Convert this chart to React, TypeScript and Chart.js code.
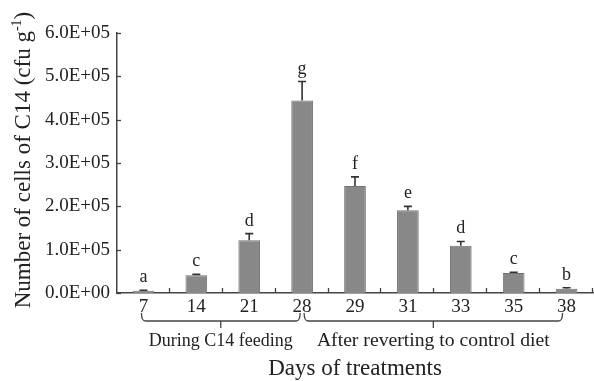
import React, { useEffect, useRef } from "react";
import { Chart, registerables } from "chart.js";

Chart.register(...registerables);

const categories = ["7", "14", "21", "28", "29", "31", "33", "35", "38"];
const means = [5000, 41000, 122000, 444000, 247000, 191000, 109000, 46000, 10000];
const errors = [1500, 2000, 15000, 44000, 21000, 9000, 10000, 2000, 2000];
const letters = ["a", "c", "d", "g", "f", "e", "d", "c", "b"];
const groupLabels = ["During C14 feeding", "After reverting to control diet"];
const groupFrom = [0, 3];
const groupTo = [3, 8];
const yTitleMain = "Number of cells of C14 (cfu g";
const yTitleSup = "-1";
const yTitleEnd = ")";
const xTitle = "Days of treatments";

const SERIF = "'Liberation Serif', 'Times New Roman', serif";
const GROUP_FONT_SIZES = [18, 19.7];

function fmt(v: number): string {
  if (v === 0) return "0.0E+00";
  const e = Math.floor(Math.log10(v) + 1e-9);
  const m = v / Math.pow(10, e);
  return m.toFixed(1) + "E+" + (e < 10 ? "0" + e : String(e));
}

const decorPlugin = {
  id: "decor",
  afterDatasetsDraw(chart: any) {
    const ctx = chart.ctx;
    const y = chart.scales.y;
    const meta = chart.getDatasetMeta(0);
    ctx.save();
    ctx.strokeStyle = "#333";
    ctx.lineWidth = 1.6;
    meta.data.forEach((bar: any, i: number) => {
      const cx = bar.x;
      const top = y.getPixelForValue(means[i] + errors[i]);
      const by = y.getPixelForValue(means[i]);
      ctx.beginPath();
      ctx.moveTo(cx, by);
      ctx.lineTo(cx, top);
      ctx.moveTo(cx - 4, top);
      ctx.lineTo(cx + 4, top);
      ctx.stroke();
      ctx.fillStyle = "#222";
      ctx.font = "18px " + SERIF;
      ctx.textAlign = "center";
      ctx.textBaseline = "alphabetic";
      ctx.fillText(letters[i], cx, top - 8);
    });
    ctx.restore();
  },
  afterDraw(chart: any) {
    const ctx = chart.ctx;
    const x = chart.scales.x;
    const y = chart.scales.y;
    const area = chart.chartArea;
    ctx.save();
    ctx.strokeStyle = "#444";
    ctx.lineWidth = 1.3;
    for (let v = 0; v <= 600000; v += 100000) {
      const py = Math.round(y.getPixelForValue(v)) + 0.5;
      ctx.beginPath();
      ctx.moveTo(area.left, py);
      ctx.lineTo(area.left + 4, py);
      ctx.stroke();
    }
    const step = (area.right - area.left) / categories.length;
    for (let i = 1; i <= categories.length; i++) {
      const px = Math.round(area.left + step * i) - 0.5;
      ctx.beginPath();
      ctx.moveTo(px, area.bottom);
      ctx.lineTo(px, area.bottom - 5);
      ctx.stroke();
    }
    const lineY = area.bottom + 28;
    for (let g = 0; g < groupLabels.length; g++) {
      const x0 = x.getPixelForValue(groupFrom[g]) + (g === 0 ? -2 : 2);
      const x1 = x.getPixelForValue(groupTo[g]) + (g === 0 ? -2 : -4);
      const mid = (x0 + x1) / 2;
      ctx.beginPath();
      ctx.moveTo(x0, lineY - 8);
      ctx.quadraticCurveTo(x0, lineY, x0 + 4, lineY);
      ctx.lineTo(x1 - 4, lineY);
      ctx.quadraticCurveTo(x1, lineY, x1, lineY - 8);
      ctx.moveTo(mid, lineY);
      ctx.lineTo(mid, lineY + 7);
      ctx.stroke();
      ctx.fillStyle = "#222";
      ctx.font = GROUP_FONT_SIZES[g] + "px " + SERIF;
      ctx.textAlign = "center";
      ctx.textBaseline = "middle";
      ctx.fillText(groupLabels[g], mid, lineY + 20);
    }
    ctx.fillStyle = "#222";
    ctx.font = "23px " + SERIF;
    ctx.textAlign = "center";
    ctx.textBaseline = "middle";
    ctx.fillText(xTitle, (area.left + area.right) / 2, area.bottom + 76);
    ctx.translate(24, 160);
    ctx.rotate(-Math.PI / 2);
    const mainFont = "23px " + SERIF;
    const supFont = "14px " + SERIF;
    ctx.font = mainFont;
    const w1 = ctx.measureText(yTitleMain).width;
    const w3 = ctx.measureText(yTitleEnd).width;
    ctx.font = supFont;
    const w2 = ctx.measureText(yTitleSup).width;
    const total = w1 + w2 + w3;
    let cx = -total / 2;
    ctx.textAlign = "left";
    ctx.textBaseline = "middle";
    ctx.font = mainFont;
    ctx.fillText(yTitleMain, cx, 0);
    cx += w1;
    ctx.font = supFont;
    ctx.fillText(yTitleSup, cx, -7);
    cx += w2;
    ctx.font = mainFont;
    ctx.fillText(yTitleEnd, cx, 0);
    ctx.restore();
  },
};

export default function App() {
  const ref = useRef<HTMLCanvasElement | null>(null);
  useEffect(() => {
    if (!ref.current) return;
    const chart = new Chart(ref.current, {
      type: "bar",
      data: {
        labels: categories,
        datasets: [
          {
            data: means,
            backgroundColor: "#888888",
            borderColor: "#727272",
            borderWidth: 1,
            barPercentage: 0.41,
            categoryPercentage: 1,
          },
        ],
      },
      options: {
        responsive: false,
        animation: false,
        layout: { padding: { top: 33, right: 1, left: 0, bottom: 0 } },
        plugins: { legend: { display: false }, tooltip: { enabled: false }, title: { display: false } },
        scales: {
          x: {
            type: "category",
            offset: true,
            grid: { display: false, drawTicks: false },
            border: { display: true, color: "#444", width: 1.5 },
            ticks: { color: "#222", font: { family: SERIF, size: 19 }, padding: 3, maxRotation: 0, autoSkip: false },
            afterFit: (s: any) => {
              s.height = 88;
            },
          },
          y: {
            min: 0,
            max: 600000,
            grid: { display: false, drawTicks: false },
            border: { display: true, color: "#444", width: 1.5 },
            ticks: {
              stepSize: 100000,
              color: "#222",
              font: { family: SERIF, size: 19 },
              padding: 7,
              callback: (v: any) => fmt(Number(v)),
            },
            afterFit: (s: any) => {
              s.width = 117;
            },
          },
        },
      },
      plugins: [decorPlugin],
    });
    return () => chart.destroy();
  }, []);
  return (
    <div style={{ position: "fixed", left: 0, top: 0, width: 594, height: 381, background: "#fff" }}>
      <canvas ref={ref} width={594} height={381} style={{ width: 594, height: 381 }} />
    </div>
  );
}
